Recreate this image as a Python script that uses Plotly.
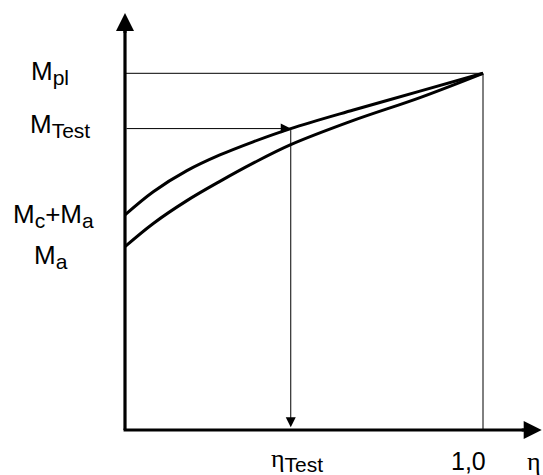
import plotly.graph_objects as go

# ---- data (normalised: eta in [0,1], M / M_pl in [0,1]) ----
eta = [0.0, 0.079, 0.173, 0.265, 0.358, 0.463, 0.638, 0.824, 1.0]
m_upper = [0.603, 0.668, 0.727, 0.771, 0.808, 0.845, 0.897, 0.950, 1.0]   # starts at Mc+Ma
m_lower = [0.514, 0.579, 0.643, 0.697, 0.748, 0.800, 0.868, 0.932, 1.0]   # starts at Ma
eta_test = 0.463
m_test = 0.845
m_pl = 1.0
eta_max = 1.164     # x-axis arrow tip
m_max = 1.169       # y-axis arrow tip

W, H = 543, 475
X0, X1 = 125, 483      # pixel of eta=0 / eta=1
Y0, Y1 = 430, 73.3     # pixel of M=0 / M=1
sx = X1 - X0
sy = Y0 - Y1
xr = [-X0 / sx, (W - X0) / sx]
yr = [-(H - Y0) / sy, Y0 / sy]

fig = go.Figure()
blk = "#000000"

def line(xs, ys, w, shape="linear"):
    fig.add_trace(go.Scatter(x=xs, y=ys, mode="lines",
                             line=dict(color=blk, width=w, shape=shape, smoothing=1.0),
                             hoverinfo="skip", showlegend=False))

# thin reference lines
line([0, 1.0], [m_pl, m_pl], 1)
line([1.0, 1.0], [0, m_pl], 1)

# curves
line(eta, m_upper, 3, "spline")
line(eta, m_lower, 3, "spline")

# axes shafts
line([0, 0], [0, m_max - 0.03], 3.2)
line([-0.004, eta_max - 0.03], [0, 0], 3.2)

def arrow(x, y, ax, ay, w, size):
    fig.add_annotation(x=x, y=y, ax=ax, ay=ay, xref="x", yref="y", axref="x", ayref="y",
                       text="", showarrow=True, arrowhead=2, arrowwidth=w, arrowsize=size,
                       arrowcolor=blk, standoff=0, startstandoff=0)

# axis arrows
arrow(0, m_max, 0, m_max - 0.06, 3, 1.2)
arrow(eta_max, 0, eta_max - 0.06, 0, 3, 1.2)
# test arrows
arrow(eta_test, m_test, 0, m_test, 1, 2.0)
arrow(eta_test, 0.008, eta_test, m_test, 1, 2.0)

sans = "Liberation Sans, Arial, sans-serif"
serif = "Liberation Serif, Times New Roman, DejaVu Serif, serif"
FS = 26

def px_x(p):
    return p / W

def px_y(p):
    return (H - p) / H

def label(text, xpx, y, yshift=0):
    fig.add_annotation(x=px_x(xpx), xref="paper", y=y, yref="y", text=text, showarrow=False,
                       xanchor="left", yanchor="middle", yshift=yshift,
                       font=dict(family=sans, size=FS, color=blk))

sub = lambda s: "<sub><span style='font-size:21px'>" + s + "</span></sub>"
label("M" + sub("pl"), 29, m_pl, yshift=1)
label("M" + sub("Test"), 28, m_test, yshift=3)
label("M" + sub("c") + "+M" + sub("a"), 11, m_upper[0], yshift=-1)
label("M" + sub("a"), 32, m_lower[0], yshift=-10)

# x labels
fig.add_annotation(x=eta_test, xref="x", y=px_y(460), yref="paper", showarrow=False,
                   xanchor="center", yanchor="middle", xshift=6,
                   text="<span style='font-family:Liberation Serif'>η</span>" + sub("Test"),
                   font=dict(family=sans, size=FS, color=blk))
fig.add_annotation(x=1.0, xref="x", y=px_y(461), yref="paper", showarrow=False,
                   xanchor="right", xshift=5, yanchor="middle", text="1,0",
                   font=dict(family=sans, size=25, color=blk))
fig.add_annotation(x=1.0, xref="paper", y=px_y(461), yref="paper", showarrow=False,
                   xanchor="right", yanchor="middle", text="η",
                   font=dict(family=serif, size=FS, color=blk))

fig.update_layout(
    width=W, height=H, margin=dict(l=0, r=0, t=0, b=0),
    paper_bgcolor="white", plot_bgcolor="white",
    xaxis=dict(range=xr, visible=False, fixedrange=True),
    yaxis=dict(range=yr, visible=False, fixedrange=True),
    showlegend=False,
)
fig.write_html("out.html", config={"displayModeBar": False},
               post_script="document.body.style.margin='0';document.body.style.overflow='hidden';")
